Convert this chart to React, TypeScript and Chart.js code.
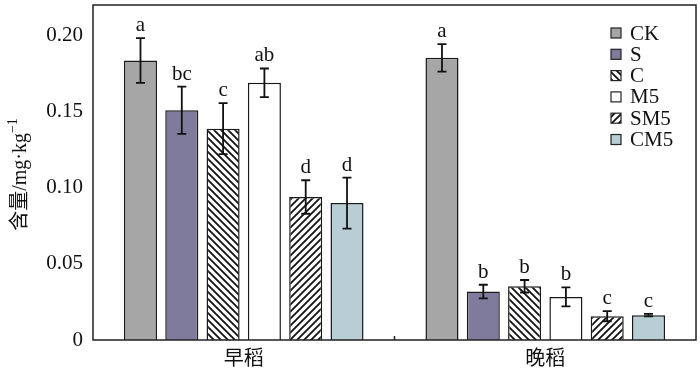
import React, { useEffect, useRef } from "react";
import { Chart, registerables } from "chart.js";

Chart.register(...registerables);

const categories = ["早稻", "晚稻"];
const seriesNames = ["CK", "S", "C", "M5", "SM5", "CM5"];

const ckValues = [0.1836, 0.1853];
const sValues = [0.1509, 0.0318];
const cValues = [0.1388, 0.0353];
const m5Values = [0.1689, 0.0283];
const sm5Values = [0.0939, 0.0156];
const cm5Values = [0.0899, 0.0163];

const ckErr = [0.0147, 0.009];
const sErr = [0.0155, 0.0045];
const cErr = [0.0167, 0.0041];
const m5Err = [0.0094, 0.0062];
const sm5Err = [0.011, 0.0033];
const cm5Err = [0.0167, 0.0008];

const ckLetters = ["a", "a"];
const sLetters = ["bc", "b"];
const cLetters = ["c", "b"];
const m5Letters = ["ab", "b"];
const sm5Letters = ["d", "c"];
const cm5Letters = ["d", "c"];

const yTicks = [0, 0.05, 0.1, 0.15, 0.2];
const yMax = 0.22;

const SERIF = '"Liberation Serif", "Times New Roman", "Noto Sans CJK SC", serif';

function hatch(dir: "back" | "fwd") {
  const s = 7;
  const c = document.createElement("canvas");
  c.width = s;
  c.height = s;
  const g = c.getContext("2d")!;
  g.fillStyle = "#ffffff";
  g.fillRect(0, 0, s, s);
  g.strokeStyle = "#111111";
  g.lineWidth = 1.8;
  g.beginPath();
  if (dir === "fwd") {
    g.moveTo(-1, s + 1);
    g.lineTo(s + 1, -1);
    g.moveTo(-2, 2);
    g.lineTo(2, -2);
    g.moveTo(s - 2, s + 2);
    g.lineTo(s + 2, s - 2);
  } else {
    g.moveTo(-1, -1);
    g.lineTo(s + 1, s + 1);
    g.moveTo(-2, s - 2);
    g.lineTo(2, s + 2);
    g.moveTo(s - 2, -2);
    g.lineTo(s + 2, 2);
  }
  g.stroke();
  return g.createPattern(c, "repeat")!;
}

export default function App() {
  const ref = useRef<HTMLCanvasElement | null>(null);

  useEffect(() => {
    const canvas = ref.current!;
    const values = [ckValues, sValues, cValues, m5Values, sm5Values, cm5Values];
    const errs = [ckErr, sErr, cErr, m5Err, sm5Err, cm5Err];
    const letters = [ckLetters, sLetters, cLetters, m5Letters, sm5Letters, cm5Letters];
    const fills: any[] = ["#a6a6a6", "#7f7b9c", hatch("back"), "#ffffff", hatch("fwd"), "#b8ced4"];

    const decor = {
      id: "decor",
      afterDatasetsDraw(chart: any) {
        const ctx = chart.ctx as CanvasRenderingContext2D;
        const y = chart.scales.y;
        const x = chart.scales.x;
        const area = chart.chartArea;
        ctx.save();
        // error bars and letters
        chart.data.datasets.forEach((ds: any, di: number) => {
          const meta = chart.getDatasetMeta(di);
          meta.data.forEach((bar: any, i: number) => {
            const v = ds.data[i];
            const e = errs[di][i];
            const px = bar.x;
            const top = y.getPixelForValue(v + e);
            const bot = y.getPixelForValue(v - e);
            ctx.strokeStyle = "#111";
            ctx.lineWidth = 1.8;
            ctx.beginPath();
            ctx.moveTo(px, top);
            ctx.lineTo(px, bot);
            ctx.moveTo(px - 4.5, top);
            ctx.lineTo(px + 4.5, top);
            ctx.moveTo(px - 4.5, bot);
            ctx.lineTo(px + 4.5, bot);
            ctx.stroke();
            ctx.fillStyle = "#111";
            ctx.font = "21px " + SERIF;
            ctx.textAlign = "center";
            ctx.textBaseline = "alphabetic";
            ctx.fillText(letters[di][i], px, top - 7);
          });
        });
        // frame
        ctx.strokeStyle = "#222";
        ctx.lineWidth = 1.5;
        ctx.strokeRect(area.left, area.top, area.right - area.left, area.bottom - area.top);
        // category separator tick
        const mid = (x.getPixelForValue(0) + x.getPixelForValue(1)) / 2;
        ctx.beginPath();
        ctx.moveTo(mid, area.bottom);
        ctx.lineTo(mid, area.bottom - 4);
        ctx.stroke();
        // legend
        ctx.font = "21px " + SERIF;
        ctx.textAlign = "left";
        ctx.textBaseline = "middle";
        chart.data.datasets.forEach((ds: any, di: number) => {
          const cy = 33 + di * 21.3;
          ctx.fillStyle = ds.backgroundColor;
          ctx.fillRect(611, cy - 5, 10, 10);
          ctx.strokeStyle = "#222";
          ctx.lineWidth = 1.2;
          ctx.strokeRect(611, cy - 5, 10, 10);
          ctx.fillStyle = "#111";
          ctx.fillText(ds.label, 630, cy + 1);
        });
        // y title
        ctx.save();
        ctx.translate(21, (area.top + area.bottom) / 2 + 2);
        ctx.rotate(-Math.PI / 2);
        const main = "含量/mg·kg";
        const sup = "−1";
        ctx.font = "20px " + SERIF;
        const w1 = ctx.measureText(main).width;
        ctx.font = "14px " + SERIF;
        const w2 = ctx.measureText(sup).width;
        const start = -(w1 + w2) / 2;
        ctx.fillStyle = "#111";
        ctx.textAlign = "left";
        ctx.textBaseline = "middle";
        ctx.font = "20px " + SERIF;
        ctx.fillText(main, start, 0);
        ctx.font = "14px " + SERIF;
        ctx.fillText(sup, start + w1, -8);
        ctx.restore();
        ctx.restore();
      },
    };

    const chart = new Chart(canvas, {
      type: "bar",
      data: {
        labels: categories,
        datasets: seriesNames.map((name, i) => ({
          label: name,
          data: values[i],
          backgroundColor: fills[i],
          borderColor: "#1a1a1a",
          borderWidth: 1.5,
          categoryPercentage: 0.822,
          barPercentage: 0.8,
        })),
      },
      options: {
        animation: false,
        responsive: false,
        maintainAspectRatio: false,
        layout: { padding: { left: 0, top: 5, right: 4, bottom: 0 } },
        plugins: { legend: { display: false }, tooltip: { enabled: false } },
        scales: {
          x: {
            grid: { display: false, drawTicks: false },
            border: { display: false },
            ticks: { color: "#111", font: { family: SERIF, size: 20 }, padding: 8 },
            afterFit: (s: any) => {
              s.height = 36;
              s.paddingLeft = 0;
              s.paddingRight = 0;
            },
          },
          y: {
            min: 0,
            max: yMax,
            grid: { display: false, drawTicks: false },
            border: { display: false },
            afterBuildTicks: (s: any) => {
              s.ticks = yTicks.map((v) => ({ value: v }));
            },
            ticks: {
              color: "#111",
              font: { family: SERIF, size: 21 },
              padding: 10,
              callback: (v: any) => (Number(v) === 0 ? "0" : Number(v).toFixed(2)),
            },
            afterFit: (s: any) => {
              s.width = 93;
              s.paddingTop = 0;
              s.paddingBottom = 0;
            },
          },
        },
      },
      plugins: [decor],
    });
    return () => chart.destroy();
  }, []);

  return (
    <div style={{ position: "fixed", left: 0, top: 0, width: 700, height: 376, background: "#fff" }}>
      <canvas ref={ref} width={700} height={376} style={{ display: "block" }} />
    </div>
  );
}
